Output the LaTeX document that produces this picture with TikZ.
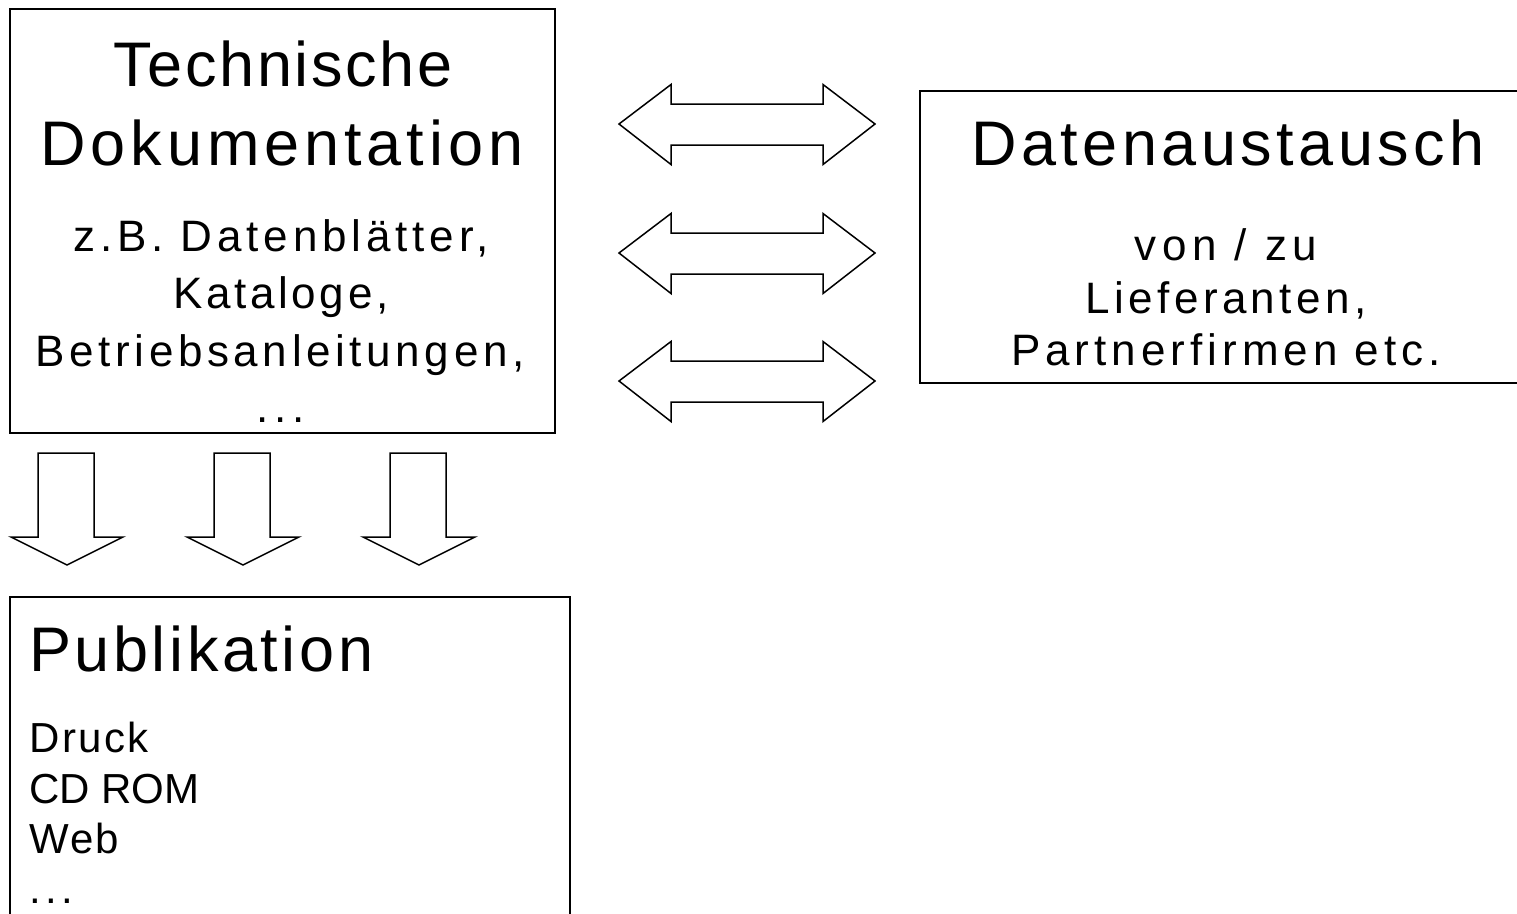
\documentclass[tikz,border=0pt]{standalone}
\usepackage{fontspec}
\setmainfont{Liberation Sans}
\newcommand\trk[1]{\addfontfeatures{LetterSpace=#1}}
\tikzset{
  frame/.style={draw, line width=1.8pt, inner sep=0pt, rectangle},
  blockarrow/.style={draw, line width=1.5pt, line join=miter, fill=white},
  big/.style={anchor=base, inner sep=0pt, font=\fontsize{63}{70}\selectfont},
  small/.style={anchor=base, inner sep=0pt, font=\fontsize{44}{50}\selectfont},
  smallw/.style={anchor=base west, inner sep=0pt, font=\fontsize{42}{48}\selectfont},
  bigw/.style={anchor=base west, inner sep=0pt, font=\fontsize{63}{70}\selectfont},
}
\begin{document}
\begin{tikzpicture}[x=1pt,y=-1pt]
\useasboundingbox (0,0) rectangle (1517,913);
\fill[white] (0,0) rectangle (1517,913);
\begin{scope}
\clip (0,0) rectangle (1517,913);
% boxes
\node[frame, minimum width=545pt, minimum height=424pt] (tech) at (282.5,221) {};
\node[frame, minimum width=610pt, minimum height=292pt] (daten) at (1225,237) {};
\node[frame, minimum width=560pt, minimum height=333pt] (publ) at (290,763.5) {};
% texts box 1
\node[big] (t1) at (283,86) {\trk{4.2}Technische};
\node[big] (t2) at (282,165) {\trk{7.8}Dokumentation};
\node[small] (t3) at (281,251) {\trk{11}z.B. Datenblätter,};
\node[small] (t4) at (281,308) {\trk{8.2}Kataloge,};
\node[small] (t5) at (280,366) {\trk{10.5}Betriebsanleitungen,};
\node[small] (t6) at (281,422) {\trk{13}...};
% texts box 2
\node[big] (d1) at (1228,165) {\trk{7.1}Datenaustausch};
\node[small] (d2) at (1226,260) {\trk{13}von / zu};
\node[small] (d3) at (1226,313) {\trk{10}Lieferanten,};
\node[small] (d4) at (1226,365) {\trk{11.4}Partnerfirmen etc.};
% texts box 3
\node[bigw] (p1) at (29,671) {\trk{5.7}Publikation};
\node[smallw] (p2) at (29,752) {\trk{6}Druck};
\node[smallw] (p3) at (29,803) {CD ROM};
\node[smallw] (p4) at (29,853) {\trk{5}Web};
\node[smallw] (p5) at (29,903) {\trk{11}...};
% double arrows
\foreach \yy/\nm in {124/a, 253/b, 381/c}{
  \draw[blockarrow] (619,\yy) -- (671,\yy-39.5) -- (671,\yy-20) -- (823,\yy-20)
    -- (823,\yy-39.5) -- (875,\yy) -- (823,\yy+40.5) -- (823,\yy+21)
    -- (671,\yy+21) -- (671,\yy+40.5) -- cycle;
}
% down arrows
\foreach \xx in {0,176,352}{
  \draw[blockarrow] (38+\xx,453) -- (94+\xx,453) -- (94+\xx,537) -- (123+\xx,537)
    -- (67+\xx,565) -- (11+\xx,537) -- (38+\xx,537) -- cycle;
}
\end{scope}
\end{tikzpicture}
\end{document}
